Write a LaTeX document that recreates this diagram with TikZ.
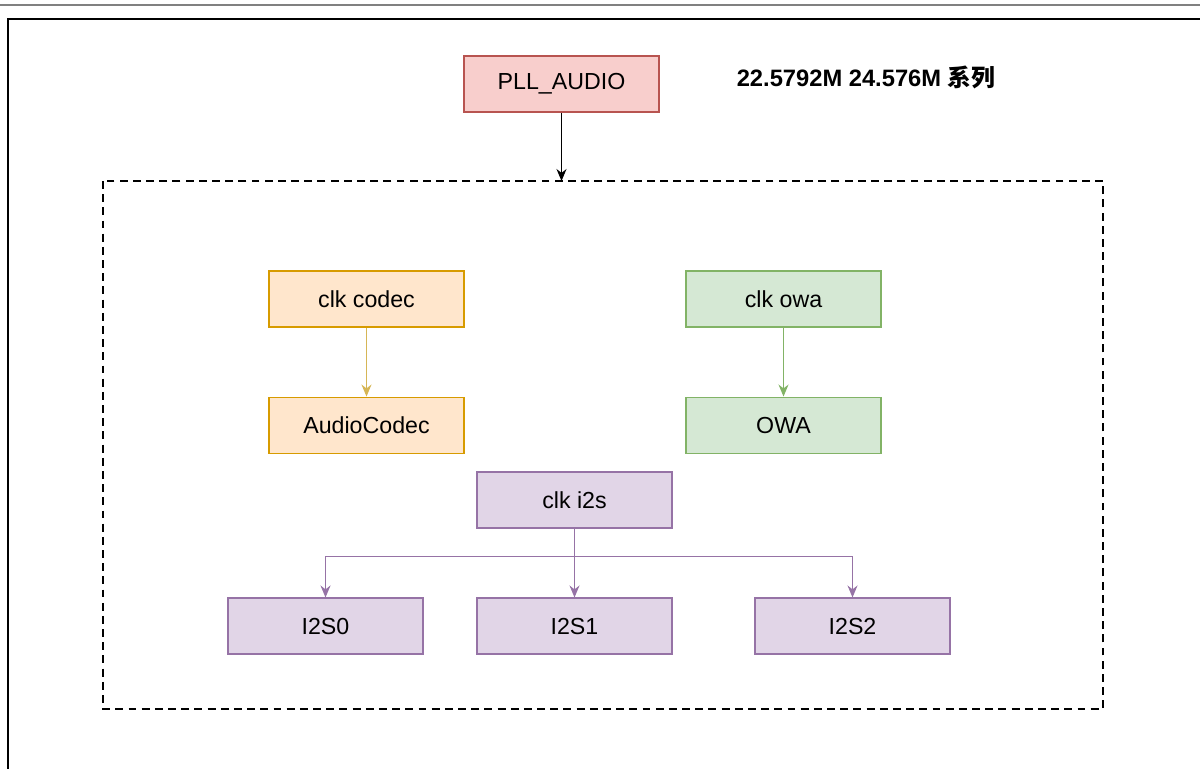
\documentclass[tikz,border=0pt]{standalone}
\usepackage{fontspec}
\setmainfont{Liberation Sans}
\newfontfamily\cjk{Noto Sans CJK SC}
\usepackage{tikz}
\usetikzlibrary{arrows.meta, positioning}
\definecolor{redfill}{HTML}{F8CECC}
\definecolor{redline}{HTML}{B85450}
\definecolor{orangefill}{HTML}{FFE6CC}
\definecolor{orangeline}{HTML}{D79B00}
\definecolor{goldline}{HTML}{D6B656}
\definecolor{greenfill}{HTML}{D5E8D4}
\definecolor{greenline}{HTML}{82B366}
\definecolor{purplefill}{HTML}{E1D5E7}
\definecolor{purpleline}{HTML}{9673A6}

\begin{document}
\begin{tikzpicture}[
    box/.style={draw, line width=0.6pt, minimum width=3.9cm, minimum height=1.12cm,
                inner sep=0pt, font=\fontsize{13.2}{15}\selectfont},
    arr/.style={-{Stealth[length=2.4mm, width=2mm]}, line width=0.6pt}
  ]
    \useasboundingbox (0,0) rectangle (24,-15.38);
    % page frame
    \draw[gray, line width=0.8pt] (0,-0.1) -- (24,-0.1);
    \draw[line width=0.8pt] (24,-0.38) -- (0.16,-0.38) -- (0.16,-15.38);

    \node[box, fill=redfill, draw=redline] (pll) at (11.23,-1.68) {PLL\_AUDIO};
    \node[font=\fontsize{13.5}{15}\selectfont\bfseries] (title) at (17.32,-1.54)
      {22.5792M 24.576M {\cjk 系列}};

    % clock domain
    \draw[line width=1.3pt, dash pattern=on 4.5pt off 3pt] (2.06,-3.62) rectangle (22.06,-14.18);
    \coordinate (domain) at (11.23,-3.62);

    \node[box, fill=orangefill, draw=orangeline] (clkcodec) at (7.33,-5.98) {clk codec};
    \node[box, fill=orangefill, draw=orangeline, below=1.38cm of clkcodec] (codec) {AudioCodec};
    \node[box, fill=greenfill, draw=greenline] (clkowa) at (15.67,-5.98) {clk owa};
    \node[box, fill=greenfill, draw=greenline, below=1.38cm of clkowa] (owa) {OWA};

    \node[box, fill=purplefill, draw=purpleline] (clki2s) at (11.49,-10.0) {clk i2s};
    \node[box, fill=purplefill, draw=purpleline] (i2s1) at (11.49,-12.52) {I2S1};
    \node[box, fill=purplefill, draw=purpleline] (i2s0) at (6.51,-12.52) {I2S0};
    \node[box, fill=purplefill, draw=purpleline] (i2s2) at (17.05,-12.52) {I2S2};

    \draw[arr] (pll) -- (domain);
    \draw[arr, goldline] (clkcodec) -- (codec);
    \draw[arr, greenline] (clkowa) -- (owa);
    \draw[arr, purpleline] (clki2s) -- (i2s1);
    \draw[arr, purpleline] (clki2s.south) -- ++(0,-0.56) -| (i2s0.north);
    \draw[arr, purpleline] (clki2s.south) -- ++(0,-0.56) -| (i2s2.north);
\end{tikzpicture}
\end{document}
